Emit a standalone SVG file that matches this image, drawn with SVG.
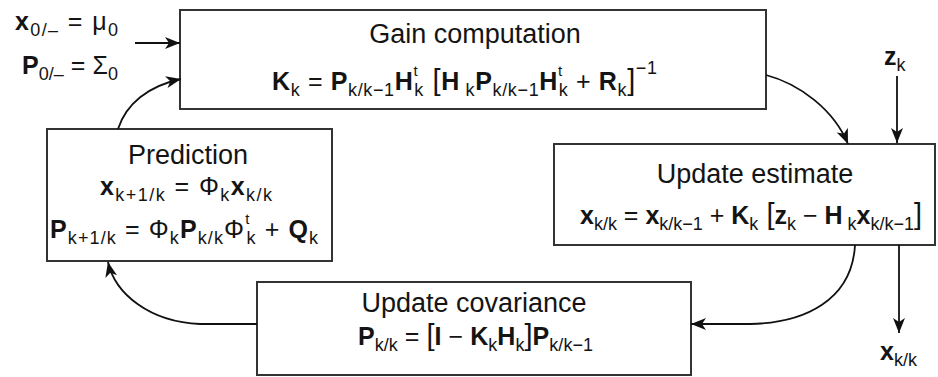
<svg xmlns="http://www.w3.org/2000/svg" width="938" height="377" viewBox="0 0 938 377">
<defs>
<marker id="ah" markerUnits="userSpaceOnUse" markerWidth="16" markerHeight="12" refX="15" refY="6" orient="auto">
<path d="M0,0 L15,6 L0,12 L4,6 Z" fill="#111"/>
</marker>
<style>
text { font-family: "Liberation Sans", Arial, sans-serif; fill: #141414; }
.t { font-size: 27px; }
.f { font-size: 25px; }
.b { font-weight: bold; }
.s { font-size: 18px; font-weight: normal; }
.sp { font-size: 15px; font-weight: normal; }
.br { font-size: 29px; font-weight: normal; }
.box { fill: #fff; stroke: #333; stroke-width: 2; }
.c { fill: none; stroke: #111; stroke-width: 1.8; }
</style>
</defs>
<rect width="938" height="377" fill="#fff"/>

<g id="init">
<text class="f" x="15" y="30" textLength="103"><tspan class="b">x</tspan><tspan class="s" dy="6">0/–</tspan><tspan dy="-6"> = μ</tspan><tspan class="s" dy="6">0</tspan></text>
<text class="f" x="22" y="74" textLength="96"><tspan class="b">P</tspan><tspan class="s" dy="6">0/–</tspan><tspan dy="-6"> = Σ</tspan><tspan class="s" dy="6">0</tspan></text>
</g>

<g id="gain">
<rect class="box" x="180" y="10" width="586" height="99"/>
<text class="t" x="475" y="43" text-anchor="middle">Gain computation</text>
<text class="f" x="272" y="90" textLength="385"><tspan class="b">K</tspan><tspan class="s" dy="6">k</tspan><tspan dy="-6"> = </tspan><tspan class="b">P</tspan><tspan class="s" dy="6">k/k−1</tspan><tspan class="b" dy="-6">H</tspan><tspan class="sp" dy="-14">t</tspan><tspan class="s" dx="-4" dy="20">k</tspan><tspan class="br" dy="-6"> [</tspan><tspan class="b">H</tspan><tspan class="s" dy="6"> k</tspan><tspan class="b" dy="-6">P</tspan><tspan class="s" dy="6">k/k−1</tspan><tspan class="b" dy="-6">H</tspan><tspan class="sp" dy="-14">t</tspan><tspan class="s" dx="-4" dy="20">k</tspan><tspan dy="-6"> + </tspan><tspan class="b">R</tspan><tspan class="s" dy="6">k</tspan><tspan class="br" dy="-6">]</tspan><tspan class="s" dy="-16">−1</tspan></text>
</g>

<g id="update-estimate">
<rect class="box" x="554" y="144" width="381" height="101"/>
<text class="t" x="755" y="183" text-anchor="middle">Update estimate</text>
<text class="f" x="580" y="224" textLength="342"><tspan class="b">x</tspan><tspan class="s" dy="6">k/k</tspan><tspan dy="-6"> = </tspan><tspan class="b">x</tspan><tspan class="s" dy="6">k/k−1</tspan><tspan dy="-6"> + </tspan><tspan class="b">K</tspan><tspan class="s" dy="6">k</tspan><tspan class="br" dy="-6"> [</tspan><tspan class="b">z</tspan><tspan class="s" dy="6">k</tspan><tspan dy="-6"> − </tspan><tspan class="b">H</tspan><tspan class="s" dy="6"> k</tspan><tspan class="b" dy="-6">x</tspan><tspan class="s" dy="6">k/k−1</tspan><tspan class="br" dy="-6">]</tspan></text>
</g>

<g id="prediction">
<rect class="box" x="47" y="129" width="285" height="132"/>
<text class="t" x="188" y="164" text-anchor="middle">Prediction</text>
<text class="f" x="186" y="195" text-anchor="middle" textLength="172"><tspan class="b">x</tspan><tspan class="s" dy="6">k+1/k</tspan><tspan dy="-6"> = Φ</tspan><tspan class="s" dy="6">k</tspan><tspan class="b" dy="-6">x</tspan><tspan class="s" dy="6">k/k</tspan></text>
<text class="f" x="184" y="238" text-anchor="middle" textLength="268"><tspan class="b">P</tspan><tspan class="s" dy="6">k+1/k</tspan><tspan dy="-6"> = Φ</tspan><tspan class="s" dy="6">k</tspan><tspan class="b" dy="-6">P</tspan><tspan class="s" dy="6">k/k</tspan><tspan dy="-6">Φ</tspan><tspan class="sp" dy="-14">t</tspan><tspan class="s" dx="-4" dy="20">k</tspan><tspan dy="-6"> + </tspan><tspan class="b">Q</tspan><tspan class="s" dy="6">k</tspan></text>
</g>

<g id="update-covariance">
<rect class="box" x="257" y="282" width="434" height="93"/>
<text class="t" x="474" y="312" text-anchor="middle">Update covariance</text>
<text class="f" x="358" y="345" textLength="235"><tspan class="b">P</tspan><tspan class="s" dy="6">k/k</tspan><tspan dy="-6"> = </tspan><tspan class="br">[</tspan><tspan class="b">I</tspan><tspan> − </tspan><tspan class="b">K</tspan><tspan class="s" dy="6">k</tspan><tspan class="b" dy="-6">H</tspan><tspan class="s" dy="6">k</tspan><tspan class="br" dy="-6">]</tspan><tspan class="b">P</tspan><tspan class="s" dy="6">k/k−1</tspan></text>
</g>

<g id="z-input">
<text class="f" x="884" y="65"><tspan class="b">z</tspan><tspan class="s" dy="6">k</tspan></text>
</g>

<g id="x-output">
<text class="f" x="880" y="360"><tspan class="b">x</tspan><tspan class="s" dy="6">k/k</tspan></text>
</g>

<g id="connectors">
<line class="c" x1="135" y1="43" x2="180" y2="43" marker-end="url(#ah)"/>
<path class="c" d="M118,129 C126,104 148,86 181,79" marker-end="url(#ah)"/>
<path class="c" d="M766,75 C800,84 834,110 848,144" marker-end="url(#ah)"/>
<line class="c" x1="897" y1="76" x2="897" y2="143" marker-end="url(#ah)"/>
<path class="c" d="M855,245 C852,300 805,323 750,324 L691,324" marker-end="url(#ah)"/>
<path class="c" d="M257,324 L200,324 C150,322 115,294 108,262" marker-end="url(#ah)"/>
<line class="c" x1="899" y1="245" x2="899" y2="333" marker-end="url(#ah)"/>
</g>
</svg>
